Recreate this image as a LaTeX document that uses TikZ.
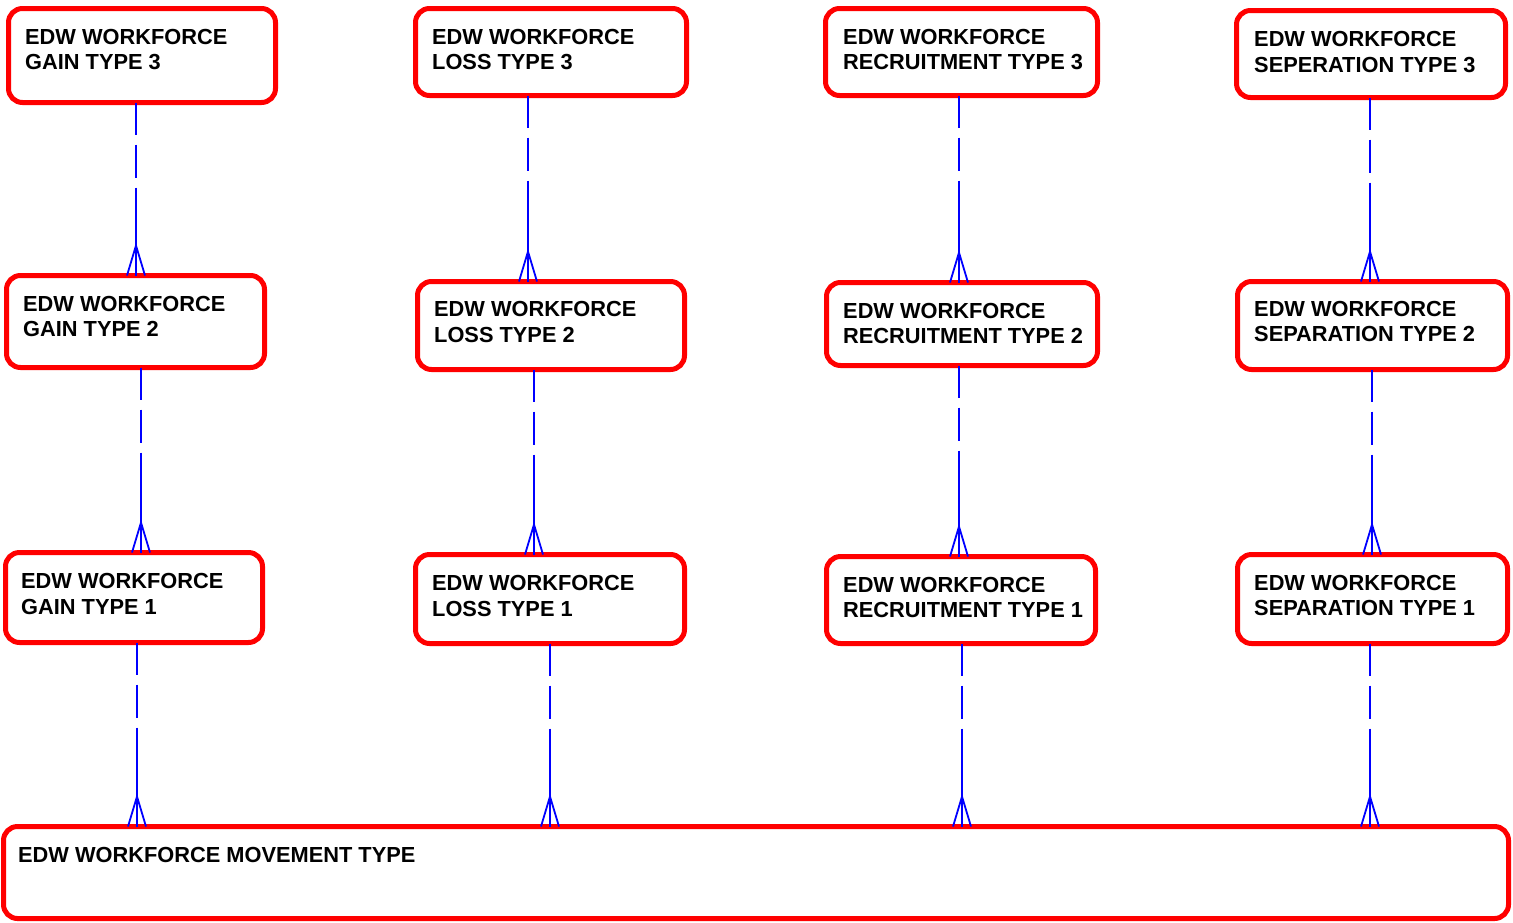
\documentclass[tikz,border=0pt]{standalone}
\usepackage{fontspec}
\setmainfont{Liberation Sans}
\begin{document}
\begin{tikzpicture}[x=1pt,y=-1pt,
  ent/.style={draw=red, line width=5pt, rounded corners=14pt, fill=white, outer sep=0pt, inner sep=0pt, shape=rectangle},
  lbl/.style={font=\fontsize{21.8}{25.5}\selectfont\bfseries, align=left, inner sep=0pt, text=black},
  rel/.style={draw=blue, line width=1.8pt, dash pattern=on 32pt off 10pt on 33pt off 10pt on 2000pt},
  foot/.style={draw=blue, line width=1.8pt}]
\useasboundingbox (0,0) rectangle (1513,922);
\newcommand\ent[5]{\node[ent, minimum width={(#4-#2-5)*1pt}, minimum height={(#5-#3-5)*1pt}] (#1) at ({(#2+#4)/2},{(#3+#5)/2}) {};}
\newcommand\conn[3]{%
  \draw[rel] (#1,0 |- #2.south) -- (#1,0 |- #3.north) coordinate (tip);
  \draw[foot] (tip) ++(0,-30) coordinate (apex) -- ++(-9,30) (apex) -- ++(9,30) (apex) -- (tip);}
% entities
\ent{g3}{6}{6}{278}{105}
\ent{l3}{413}{6}{689}{98}
\ent{r3}{823}{6}{1100}{98}
\ent{s3}{1234}{8}{1508}{100}
\ent{g2}{4}{273}{267}{370}
\ent{l2}{415}{279}{687}{372}
\ent{r2}{824}{280}{1100}{368}
\ent{s2}{1235}{279}{1510}{372}
\ent{g1}{3}{550}{265}{645}
\ent{l1}{413}{552}{687}{646}
\ent{r1}{824}{554}{1098}{646}
\ent{s1}{1235}{552}{1510}{646}
\ent{mv}{1}{824}{1511}{921}
% labels
\node[lbl, anchor=west] (g3t) at (25,49.5) {EDW WORKFORCE\\GAIN TYPE 3};
\node[lbl, anchor=west] (l3t) at (432,49.5) {EDW WORKFORCE\\LOSS TYPE 3};
\node[lbl, anchor=west] (r3t) at (843,49.5) {EDW WORKFORCE\\RECRUITMENT TYPE 3};
\node[lbl, anchor=west] (s3t) at (1254,52) {EDW WORKFORCE\\SEPERATION TYPE 3};
\node[lbl, anchor=west] (g2t) at (23,316.5) {EDW WORKFORCE\\GAIN TYPE 2};
\node[lbl, anchor=west] (l2t) at (434,322) {EDW WORKFORCE\\LOSS TYPE 2};
\node[lbl, anchor=west] (r2t) at (843,323.5) {EDW WORKFORCE\\RECRUITMENT TYPE 2};
\node[lbl, anchor=west] (s2t) at (1254,321.5) {EDW WORKFORCE\\SEPARATION TYPE 2};
\node[lbl, anchor=west] (g1t) at (21,594) {EDW WORKFORCE\\GAIN TYPE 1};
\node[lbl, anchor=west] (l1t) at (432,596) {EDW WORKFORCE\\LOSS TYPE 1};
\node[lbl, anchor=west] (r1t) at (843,597.5) {EDW WORKFORCE\\RECRUITMENT TYPE 1};
\node[lbl, anchor=west] (s1t) at (1254,595.5) {EDW WORKFORCE\\SEPARATION TYPE 1};
\node[lbl, anchor=west] (mvt) at (18,855) {EDW WORKFORCE MOVEMENT TYPE};
% connectors
\conn{136}{g3}{g2}
\conn{141}{g2}{g1}
\conn{137}{g1}{mv}
\conn{528}{l3}{l2}
\conn{534}{l2}{l1}
\conn{550}{l1}{mv}
\conn{959}{r3}{r2}
\conn{959}{r2}{r1}
\conn{962}{r1}{mv}
\conn{1370}{s3}{s2}
\conn{1372}{s2}{s1}
\conn{1370}{s1}{mv}
\end{tikzpicture}
\end{document}
